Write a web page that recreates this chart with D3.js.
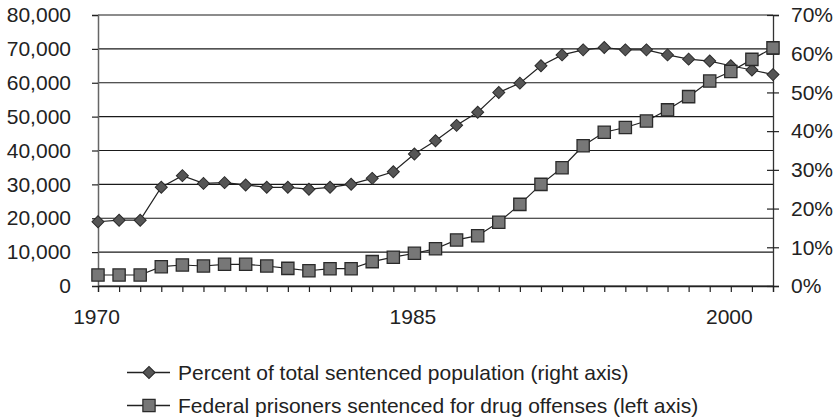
<!DOCTYPE html>
<html>
<head>
<meta charset="utf-8">
<script src="https://cdn.jsdelivr.net/npm/d3@7"></script>
<style>
  html, body { margin: 0; padding: 0; background: #fff; }
  svg text { font-family: "Liberation Sans", Arial, Helvetica, sans-serif; fill: #222; }
</style>
</head>
<body>
<svg id="chart" width="838" height="419"></svg>
<script>
// Years on the horizontal axis
const years = [1970, 1971, 1972, 1973, 1974, 1975, 1976, 1977, 1978, 1979,
  1980, 1981, 1982, 1983, 1984, 1985, 1986, 1987, 1988, 1989,
  1990, 1991, 1992, 1993, 1994, 1995, 1996, 1997, 1998, 1999,
  2000, 2001, 2002];

// Percent of total sentenced population (right axis)
const percentSentenced = [16.6, 17.0, 17.0, 25.5, 28.5, 26.5, 26.7, 26.1, 25.5, 25.5,
  25.0, 25.5, 26.3, 27.8, 29.5, 34.1, 37.5, 41.5, 44.9, 50.0,
  52.4, 56.9, 59.7, 61.0, 61.6, 61.0, 61.0, 59.7, 58.6, 58.1,
  56.9, 55.8, 54.6];

// Federal prisoners sentenced for drug offenses (left axis)
const drugPrisoners = [3250, 3250, 3250, 5700, 6200, 5900, 6400, 6400, 5900, 5200,
  4500, 5100, 5100, 7200, 8500, 9650, 11000, 13600, 14850, 18800,
  24100, 30000, 34900, 41400, 45400, 46800, 48700, 52000, 55900, 60500,
  63300, 66900, 70300];

const leftTicks = [0, 10000, 20000, 30000, 40000, 50000, 60000, 70000, 80000];
const rightTicks = [0, 10, 20, 30, 40, 50, 60, 70];
const labelledYears = [1970, 1985, 2000];

const legendLabels = [
  "Percent of total sentenced population (right axis)",
  "Federal prisoners sentenced for drug offenses (left axis)"
];

const svg = d3.select("#chart");
const plot = { left: 98, right: 773, top: 15, bottom: 286 };

const x = d3.scaleLinear().domain([1970, 2002]).range([plot.left, plot.right]);
const yLeft = d3.scaleLinear().domain([0, 80000]).range([plot.bottom, plot.top]);
const yRight = d3.scaleLinear().domain([0, 70]).range([plot.bottom, plot.top]);

const fontSize = 21;

// Horizontal gridlines follow the left-axis ticks
svg.append("g")
  .selectAll("line")
  .data(leftTicks)
  .join("line")
  .attr("x1", plot.left)
  .attr("x2", plot.right)
  .attr("y1", d => yLeft(d))
  .attr("y2", d => yLeft(d))
  .attr("stroke", "#1a1a1a")
  .attr("stroke-width", 1.2);

// Left axis
const leftAxis = svg.append("g")
  .attr("transform", `translate(${plot.left},0)`)
  .call(d3.axisLeft(yLeft)
    .tickValues(leftTicks)
    .tickFormat(d3.format(","))
    .tickSize(6)
    .tickPadding(21));
leftAxis.select(".domain").attr("stroke", "#666").attr("stroke-width", 1.5);
leftAxis.selectAll(".tick line").attr("stroke", "#222").attr("stroke-width", 1.2);
leftAxis.selectAll("text").attr("font-size", fontSize).attr("fill", "#222");

// Right axis, ticks cross the axis line
const rightAxis = svg.append("g")
  .attr("transform", `translate(${plot.right},0)`)
  .call(d3.axisRight(yRight)
    .tickValues(rightTicks)
    .tickFormat(d => d + "%")
    .tickSize(6)
    .tickPadding(12));
rightAxis.select(".domain").attr("stroke", "#333").attr("stroke-width", 1.3);
rightAxis.selectAll(".tick line").attr("x1", -6).attr("stroke", "#222").attr("stroke-width", 1.2);
rightAxis.selectAll("text").attr("font-size", fontSize).attr("fill", "#222");

// Bottom axis: a tick per year, labels every fifteen years
const bottomAxis = svg.append("g")
  .attr("transform", `translate(0,${plot.bottom})`)
  .call(d3.axisBottom(x)
    .tickValues(years)
    .tickFormat(d => labelledYears.includes(d) ? String(d) : "")
    .tickSize(6)
    .tickPadding(17));
bottomAxis.select(".domain").attr("stroke", "#222").attr("stroke-width", 1.3);
bottomAxis.selectAll(".tick line").attr("stroke", "#222").attr("stroke-width", 1.2);
bottomAxis.selectAll("text").attr("font-size", fontSize).attr("fill", "#222").attr("dx", -2);

// Series lines
const lineRight = d3.line().x((d, i) => x(years[i])).y(d => yRight(d));
const lineLeft = d3.line().x((d, i) => x(years[i])).y(d => yLeft(d));

svg.append("path")
  .datum(percentSentenced)
  .attr("d", lineRight)
  .attr("fill", "none")
  .attr("stroke", "#222")
  .attr("stroke-width", 1.2);

svg.append("path")
  .datum(drugPrisoners)
  .attr("d", lineLeft)
  .attr("fill", "none")
  .attr("stroke", "#222")
  .attr("stroke-width", 1.2);

const diamond = d3.symbol().type(d3.symbolSquare).size(72);
const square = d3.symbol().type(d3.symbolSquare).size(150);

// Diamond markers for the percentage series
svg.append("g")
  .selectAll("path")
  .data(percentSentenced)
  .join("path")
  .attr("d", diamond)
  .attr("transform", (d, i) => `translate(${x(years[i])},${yRight(d)}) rotate(45)`)
  .attr("fill", "#555")
  .attr("stroke", "#2a2a2a")
  .attr("stroke-width", 1);

// Square markers for the prisoner count series
svg.append("g")
  .selectAll("path")
  .data(drugPrisoners)
  .join("path")
  .attr("d", square)
  .attr("transform", (d, i) => `translate(${x(years[i])},${yLeft(d)})`)
  .attr("fill", "#777")
  .attr("stroke", "#2a2a2a")
  .attr("stroke-width", 1.3);

// Legend
const legend = svg.append("g");
const legendRows = [
  { label: legendLabels[0], y: 372.5, marker: diamond, rot: 45, fill: "#555" },
  { label: legendLabels[1], y: 405.5, marker: square, rot: 0, fill: "#777" }
];
legendRows.forEach(r => {
  const g = legend.append("g").attr("transform", `translate(0,${r.y})`);
  g.append("line").attr("x1", 127).attr("x2", 170).attr("y1", 0).attr("y2", 0)
    .attr("stroke", "#222").attr("stroke-width", 1.4);
  g.append("path").attr("d", r.marker)
    .attr("transform", `translate(149,0) rotate(${r.rot})`)
    .attr("fill", r.fill).attr("stroke", "#2a2a2a").attr("stroke-width", 1.2);
  g.append("text").attr("x", 178).attr("y", 0).attr("dy", "0.35em")
    .attr("font-size", fontSize).text(r.label);
});
</script>
</body>
</html>
